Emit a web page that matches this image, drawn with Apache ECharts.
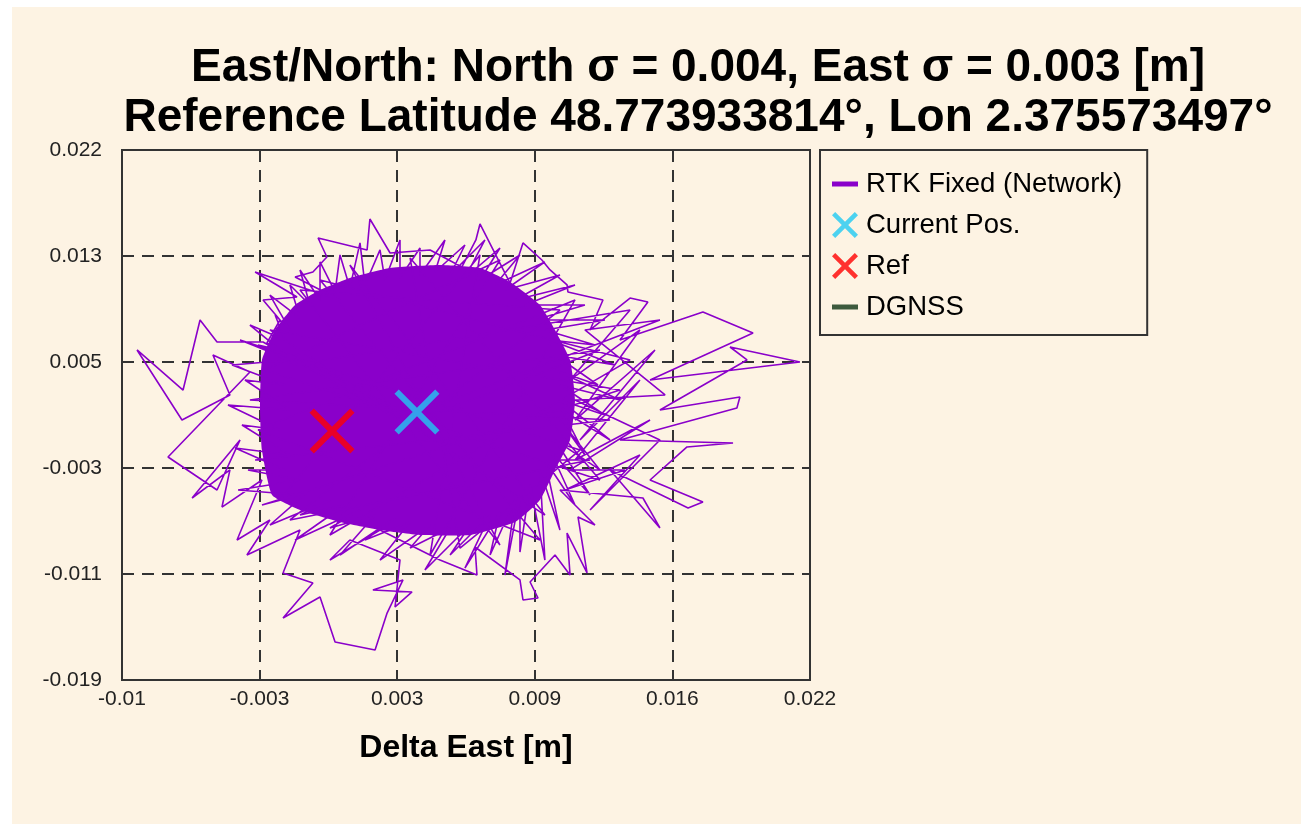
<!DOCTYPE html>
<html><head><meta charset="utf-8">
<script src="https://cdn.jsdelivr.net/npm/echarts@6/dist/echarts.min.js"></script>
<style>
html,body{margin:0;padding:0;background:#fff;width:1301px;height:824px;overflow:hidden}
#c{position:absolute;left:12px;top:7px;width:1289px;height:817px}
</style></head><body><div id="c"></div>
<script>
const titleLines = ['East/North: North \u03c3 = 0.004, East \u03c3 = 0.003 [m]', 'Reference Latitude 48.773933814\u00b0, Lon 2.375573497\u00b0'];
const xAxisTitle = 'Delta East [m]';
const xTickLabels = ['-0.01', '-0.003', '0.003', '0.009', '0.016', '0.022'];
const yTickLabels = ['-0.019', '-0.011', '-0.003', '0.005', '0.013', '0.022'];
const seriesNames = ['RTK Fixed (Network)', 'Current Pos.', 'Ref', 'DGNSS'];

// RTK track [deltaEast, deltaNorth] in metres
const rtkTrack = [
[0.00293,0.00111],[-0.00344,0.00715],[-0.00558,0.00715],[-0.00637,0.00885],[-0.00716,0.00343],
[-0.00930,0.00653],[-0.00721,0.00111],[-0.00498,0.00305],[-0.00577,0.00614],[-0.00405,0.00483],
[-0.00786,-0.00175],[-0.00558,-0.00430],[-0.00451,-0.00043],[-0.00674,-0.00492],[-0.00498,-0.00275],
[-0.00535,-0.00562],[-0.00349,-0.00353],[-0.00465,-0.00817],[-0.00312,-0.00662],[-0.00419,-0.00933],
[-0.00172,-0.00740],[-0.00251,-0.01072],[-0.00112,-0.01150],[-0.00251,-0.01420],[-0.00079,-0.01258],
[-0.00009,-0.01606],[0.00177,-0.01668],[0.00233,-0.01382],[0.00307,-0.01126],[0.00167,-0.01204],
[0.00349,-0.01219],[0.00270,-0.01335],[0.00293,-0.00972],[0.00060,-0.00817],[-0.00033,-0.00972],
[0.00200,-0.00740],[0.00479,-0.00972],[0.00651,-0.01088],[0.00642,-0.00871],[0.00851,-0.01126],
[0.00865,-0.01281],[0.00935,-0.01266],[0.00898,-0.01142],[0.01014,-0.00933],[0.01084,-0.01088],
[0.01070,-0.00763],[0.01163,-0.01072],[0.01121,-0.00639],[0.01200,-0.00701],[0.01037,-0.00430],
[0.01423,-0.00492],[0.01502,-0.00724],[0.01270,-0.00275],[0.01633,-0.00569],[0.01702,-0.00523],
[0.01456,-0.00353],[0.01628,-0.00097],[0.01842,-0.00067],[0.01316,-0.00043],[0.01860,0.00204],
[0.01874,0.00289],[0.01502,0.00189],[0.01907,0.00576],[0.01828,0.00676],[0.02153,0.00560],
[0.01456,0.00421],[0.01935,0.00784],[0.01702,0.00947],[0.01316,0.00730],[0.01446,0.01024],
[0.01363,0.01055],[0.01177,0.00808],[0.01237,0.01040],[0.01074,0.01102],[0.01070,0.01156],
[0.00991,0.01272],[0.00953,0.01349],[0.00865,0.01481],[0.00805,0.01171],[0.00665,0.01628],
[0.00646,0.01504],[0.00581,0.01295],[0.00433,0.01427],[0.00247,0.01403],[0.00153,0.01666],
[0.00140,0.01427],[-0.00088,0.01519],[-0.00047,0.01372],[-0.00112,0.01256],[-0.00195,0.01218],
[0.00014,0.01040],[-0.00381,0.01256],[-0.00186,0.01063],[-0.00344,0.01040],[-0.00265,0.00885],
[-0.00326,0.00707],[0.00386,0.00111],[0.01223,0.00653],[-0.00405,0.00266],[0.01270,0.00111],
[-0.00381,-0.00198],[0.01177,-0.00198],[-0.00219,-0.00662],[0.01037,0.00962],[-0.00172,0.01117],
[0.00758,-0.00856],[0.00060,0.01310],[0.00967,-0.00624],[-0.00312,0.00808],[0.01316,0.00343],
[-0.00265,-0.00507],[0.00665,0.01388],[0.00433,-0.00933],[0.01107,0.01040],[-0.00367,0.00034],
[0.00944,-0.00817],[-0.00079,0.01194],[0.01363,0.00576],[-0.00033,-0.00778],[0.00758,0.01349],
[-0.00335,0.00498],[0.01223,-0.00353],[0.00340,0.01365],[0.00572,-0.00879],[0.01130,-0.00121],
[-0.00451,0.00730],[-0.00219,0.00576],[-0.00488,0.00537],[-0.00242,0.00382],[-0.00428,0.00421],
[-0.00219,0.00189],[-0.00507,0.00227],[-0.00265,0.00034],[-0.00442,0.00073],[-0.00219,-0.00159],
[-0.00474,-0.00105],[-0.00242,-0.00275],[-0.00414,-0.00275],[-0.00172,-0.00353],[-0.00460,-0.00430],
[-0.00172,-0.00469],[-0.00349,-0.00546],[-0.00126,-0.00430],[-0.00312,-0.00701],[-0.00033,-0.00507],
[-0.00172,-0.00624],[0.00037,-0.00546],[-0.00195,-0.00817],[0.00107,-0.00585],[-0.00033,-0.00724],
[0.00177,-0.00624],[0.00014,-0.00933],[0.00270,-0.00647],[0.00130,-0.00817],[0.00340,-0.00678],
[0.00200,-0.00972],[0.00433,-0.00701],[0.00340,-0.00879],[0.00526,-0.00724],[0.00409,-0.01049],
[0.00619,-0.00701],[0.00526,-0.00933],[0.00712,-0.00624],[0.00595,-0.01034],[0.00758,-0.00600],
[0.00712,-0.00933],[0.00828,-0.00507],[0.00781,-0.01088],[0.00851,-0.00469],[0.00851,-0.00910],
[0.00898,-0.00391],[0.00967,-0.00972],[0.00944,-0.00275],[0.01037,-0.00740],[0.00967,-0.00198],
[0.01107,-0.00546],[0.00991,-0.00121],[0.01177,-0.00469],[0.01014,-0.00043],[0.01223,-0.00275],
[0.01037,0.00111],[0.01153,-0.00159],[0.01046,0.00189],[0.01270,-0.00043],[0.01037,0.00266],
[0.01246,0.00150],[0.01037,0.00382],[0.01316,0.00266],[0.01014,0.00498],[0.01214,0.00382],
[0.01014,0.00614],[0.01293,0.00537],[0.00991,0.00730],[0.01200,0.00692],[0.00967,0.00808],
[0.01246,0.00885],[0.00921,0.00885],[0.01153,0.01001],[0.00874,0.01001],[0.01107,0.01156],
[0.00828,0.01040],[0.01037,0.01233],[0.00781,0.01117],[0.00967,0.01334],[0.00735,0.01156],
[0.00851,0.01388],[0.00665,0.01194],[0.00758,0.01442],[0.00595,0.01210],[0.00688,0.01504],
[0.00526,0.01233],[0.00595,0.01465],[0.00456,0.01256],[0.00502,0.01504],[0.00386,0.01233],
[0.00386,0.01442],[0.00293,0.01210],[0.00293,0.01504],[0.00223,0.01194],[0.00200,0.01427],
[0.00130,0.01156],[0.00107,0.01481],[0.00060,0.01133],[0.00014,0.01388],[-0.00009,0.01102],
[-0.00079,0.01334],[-0.00079,0.01040],[-0.00172,0.01272],[-0.00126,0.01001],[-0.00219,0.01156],
[-0.00172,0.00900],[-0.00312,0.01078],[-0.00219,0.00808],[-0.00288,0.00924],[-0.00242,0.00730],
[-0.00405,0.00846],[-0.00265,0.00653],[-0.00367,0.00692],[-0.00195,0.00537],
[0.01363,0.00962],[0.01084,0.00421],[0.01409,0.00808],[0.01107,0.00111],[0.01479,0.00653],
[0.01130,-0.00043],[0.01409,0.00421],[0.01107,-0.00198],[0.01456,0.00111],[0.01084,-0.00275],
[0.01339,-0.00275],[0.01060,-0.00430],[0.01409,-0.00159],[0.01177,-0.00585],[0.01502,-0.00043],
[0.01107,0.00266],[0.01526,0.00305],[0.01153,0.00808],[0.01502,0.00885],[0.00293,0.00111]
];
// outline of the region where the track is so dense it reads as solid colour
const rtkDenseCore = [
[-0.00349,0.00576],[-0.00288,0.00808],[-0.00195,0.01001],[-0.00079,0.01117],[0.00060,0.01210],
[0.00247,0.01287],[0.00479,0.01310],[0.00665,0.01287],[0.00805,0.01179],[0.00944,0.01001],
[0.01014,0.00808],[0.01084,0.00576],[0.01107,0.00266],[0.01084,-0.00043],[0.01014,-0.00275],
[0.00944,-0.00507],[0.00828,-0.00678],[0.00619,-0.00778],[0.00386,-0.00778],[0.00200,-0.00740],
[0.00014,-0.00678],[-0.00172,-0.00585],[-0.00302,-0.00469],[-0.00349,-0.00121],[-0.00358,0.00189]
];
const currentPos = [0.00372, 0.00173];
const refPos = [-0.00023, 0.00026];
const dgnssTrack = [];

const X_MIN = -0.01, X_MAX = 0.022, X_STEP = 0.0064;
const Y_MIN = -0.019, Y_MAX = 0.022, Y_STEP = 0.0082;

const PURPLE = '#8a00ca', CYAN = '#1fc9f2', RED = '#ff0000', GREEN = '#3d5a3d';
const CREAM = '#fdf3e3', INK = '#222';
const FONT = '"Liberation Sans", Arial, sans-serif';
const xSymbol = 'path://M0,9.5 L9.5,0 L50,40.5 L90.5,0 L100,9.5 L59.5,50 L100,90.5 L90.5,100 L50,59.5 L9.5,100 L0,90.5 L40.5,50 Z';
const xIcon = 'path://M0,3.2 L3.2,0 L13,9.8 L22.8,0 L26,3.2 L16.2,13 L26,22.8 L22.8,26 L13,16.2 L3.2,26 L0,22.8 L9.8,13 Z M29,26';
const lineIcon = 'path://M0,0 M29,26 M0,10.5 L26,10.5 L26,15.5 L0,15.5 Z';

function polyRenderer(poly, fill) {
  return function (params, api) {
    const pts = poly.map(p => api.coord(p));
    return { type: 'polygon', shape: { points: pts, smooth: 0.15 }, style: { fill: fill } };
  };
}

const chart = echarts.init(document.getElementById('c'), null, { renderer: 'canvas' });
chart.setOption({
  backgroundColor: CREAM,
  animation: false,
  title: {
    text: titleLines.join('\n'), left: 686, top: 36, padding: 0, textAlign: 'center',
    textStyle: { fontSize: 46, lineHeight: 50, fontWeight: 'bold', color: '#000', fontFamily: FONT }
  },
  grid: { left: 110, top: 143, width: 688, height: 530, show: true, borderColor: '#333', borderWidth: 2, backgroundColor: 'transparent' },
  legend: {
    orient: 'vertical', left: 808, top: 143, itemWidth: 29, itemHeight: 26, itemGap: 13,
    padding: [20, 25, 14, 12], borderColor: '#333', borderWidth: 2, backgroundColor: CREAM,
    textStyle: { fontSize: 27.5, lineHeight: 26, color: '#000', fontFamily: FONT },
    data: [
      { name: seriesNames[0], icon: lineIcon },
      { name: seriesNames[1], icon: xIcon },
      { name: seriesNames[2], icon: xIcon },
      { name: seriesNames[3], icon: lineIcon }
    ]
  },
  xAxis: {
    type: 'value', min: X_MIN, max: X_MAX, interval: X_STEP,
    name: xAxisTitle, nameLocation: 'middle', nameGap: 52,
    nameTextStyle: { fontSize: 32, fontWeight: 'bold', color: '#000', fontFamily: FONT },
    axisLine: { show: false }, axisTick: { show: false },
    axisLabel: { fontSize: 21, color: INK, fontFamily: FONT, margin: 9, showMinLabel: true, showMaxLabel: true,
      formatter: v => xTickLabels[Math.round((v - X_MIN) / X_STEP)] },
    splitLine: { show: true, lineStyle: { type: [12, 8], color: '#333', width: 2 } }
  },
  yAxis: {
    type: 'value', min: Y_MIN, max: Y_MAX, interval: Y_STEP,
    axisLine: { show: false }, axisTick: { show: false },
    axisLabel: { fontSize: 21, color: INK, fontFamily: FONT, margin: 20, showMinLabel: true, showMaxLabel: true,
      formatter: v => yTickLabels[Math.round((v - Y_MIN) / Y_STEP)] },
    splitLine: { show: true, lineStyle: { type: [12, 8], color: '#333', width: 2 } }
  },
  series: [
    { type: 'custom', name: 'core', silent: true, z: 1, data: [[0, 0]], encode: { x: 0, y: 1 },
      renderItem: polyRenderer(rtkDenseCore, PURPLE) },
    { type: 'line', name: seriesNames[0], data: rtkTrack, showSymbol: false, symbol: 'none', z: 2,
      lineStyle: { width: 1.6, color: PURPLE }, itemStyle: { color: PURPLE } },
    { type: 'scatter', name: seriesNames[1], data: [currentPos], symbol: xSymbol, symbolSize: 45, z: 5,
      itemStyle: { color: CYAN } },
    { type: 'scatter', name: seriesNames[2], data: [refPos], symbol: xSymbol, symbolSize: 45, z: 5,
      itemStyle: { color: RED } },
    { type: 'line', name: seriesNames[3], data: dgnssTrack, showSymbol: false, symbol: 'none',
      lineStyle: { width: 2, color: GREEN }, itemStyle: { color: GREEN } }
  ]
});
</script></body></html>
